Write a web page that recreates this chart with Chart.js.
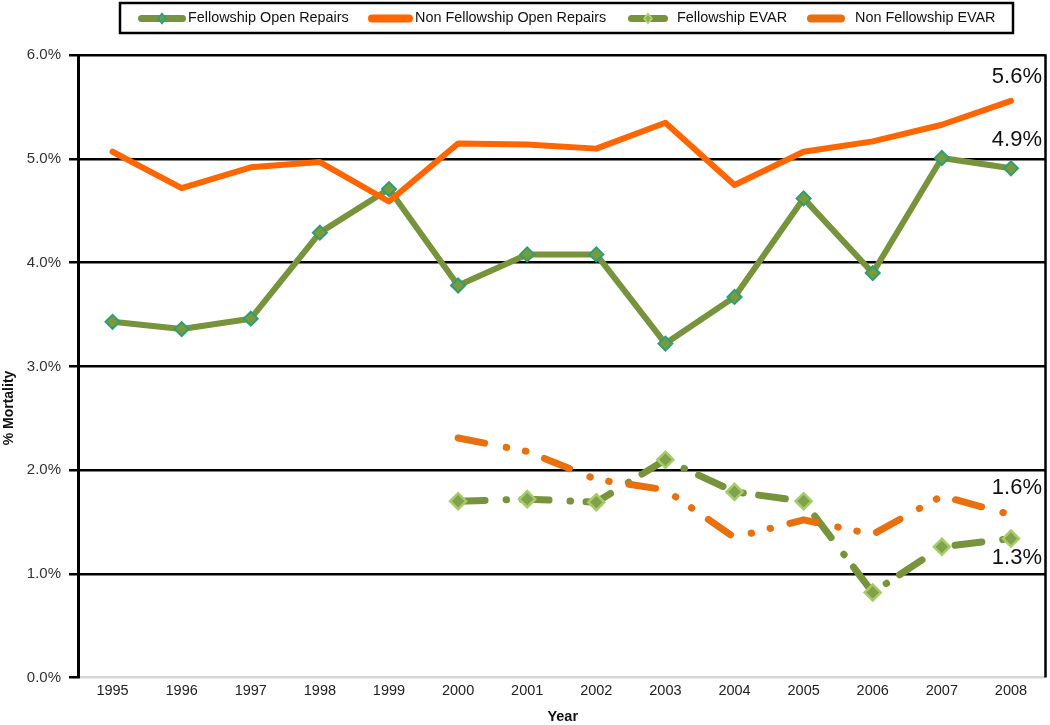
<!DOCTYPE html>
<html>
<head>
<meta charset="utf-8">
<script src="https://cdn.jsdelivr.net/npm/chart.js@4.4.1/dist/chart.umd.min.js"></script>
<style>
  html, body { margin: 0; padding: 0; background: #fff; overflow: hidden; }
  #wrap { width: 1050px; height: 725px; position: relative; }
  canvas { display: block; }
</style>
</head>
<body>
<div id="wrap"><canvas id="c"></canvas></div>
<script>
// ---- data ----
const years = ['1995','1996','1997','1998','1999','2000','2001','2002','2003','2004','2005','2006','2007','2008'];
const fellowOpen    = [3.43, 3.36, 3.46, 4.29, 4.71, 3.78, 4.08, 4.08, 3.22, 3.67, 4.62, 3.90, 5.01, 4.91];
const nonFellowOpen = [5.07, 4.72, 4.92, 4.97, 4.59, 5.15, 5.14, 5.10, 5.35, 4.75, 5.07, 5.17, 5.33, 5.56];
const fellowEvar    = [null, null, null, null, null, 1.70, 1.72, 1.69, 2.10, 1.79, 1.70, 0.82, 1.26, 1.34];
const nonFellowEvar = [null, null, null, null, null, 2.31, 2.18, 1.91, 1.81, 1.35, 1.52, 1.38, 1.75, 1.57];
const seriesNames = ['Fellowship Open Repairs', 'Non Fellowship Open Repairs', 'Fellowship EVAR', 'Non Fellowship EVAR'];
const yMin = 0, yMax = 6, yStep = 1;
const xTitle = 'Year';
const yTitle = '% Mortality';

// ---- styles ----
const GREEN = '#77933C';
const ORANGE = '#FF6600';
const ORANGE2 = '#E8700E';
const SANS = "'Liberation Sans', Arial, Helvetica, sans-serif";

// legend layout (positions only)
const legendBox = { l: 120, t: 3, r: 1013, b: 33 };
const legendItems = [
  { x0: 138, x1: 186, tx: 188, color: GREEN, w: 7, marker: { fill: '#5E9E6A', stroke: '#2E9E77' } },
  { x0: 368, x1: 413, tx: 415, color: ORANGE, w: 8, marker: null },
  { x0: 628, x1: 668, tx: 677, color: GREEN, w: 7, marker: { fill: '#8DB255', stroke: '#B5D57A' } },
  { x0: 807, x1: 845, tx: 855, color: ORANGE2, w: 8, marker: null }
];

function diamond(ctx, x, y, rx, ry) {
  ctx.beginPath();
  ctx.moveTo(x, y - ry); ctx.lineTo(x + rx, y); ctx.lineTo(x, y + ry); ctx.lineTo(x - rx, y);
  ctx.closePath();
}

const decorPlugin = {
  id: 'decor',
  beforeDatasetsDraw(chart) {
    const { ctx, chartArea: a } = chart;
    ctx.save();
    ctx.strokeStyle = '#000';
    ctx.lineWidth = 2.5;
    ctx.beginPath();
    ctx.moveTo(a.right, a.top - 1);
    ctx.lineTo(a.right, a.bottom);
    ctx.stroke();
    ctx.restore();
  },
  afterDraw(chart) {
    const { ctx, chartArea: a } = chart;
    ctx.save();
    // legend box
    ctx.strokeStyle = '#000';
    ctx.lineWidth = 2.5;
    ctx.strokeRect(legendBox.l, legendBox.t, legendBox.r - legendBox.l, legendBox.b - legendBox.t);
    const cy = (legendBox.t + legendBox.b) / 2 + 0.5;
    legendItems.forEach((it, i) => {
      ctx.strokeStyle = it.color;
      ctx.lineWidth = it.w;
      ctx.lineCap = 'round';
      ctx.beginPath();
      ctx.moveTo(it.x0 + it.w / 2, cy);
      ctx.lineTo(it.x1 - it.w / 2, cy);
      ctx.stroke();
      if (it.marker) {
        const mx = (it.x0 + it.x1) / 2;
        diamond(ctx, mx, cy, 4, 5);
        ctx.fillStyle = it.marker.fill; ctx.fill();
        ctx.lineWidth = 1.5; ctx.strokeStyle = it.marker.stroke; ctx.stroke();
      }
      ctx.fillStyle = '#111';
      ctx.font = '14.4px ' + SANS;
      ctx.textAlign = 'left';
      ctx.textBaseline = 'middle';
      ctx.fillText(seriesNames[i], it.tx, cy);
    });

    // axis titles
    ctx.fillStyle = '#111';
    ctx.font = 'bold 14px ' + SANS;
    ctx.textAlign = 'center';
    ctx.textBaseline = 'middle';
    ctx.save();
    ctx.translate(9, 408);
    ctx.rotate(-Math.PI / 2);
    ctx.fillText(yTitle, 0, 0);
    ctx.restore();
    ctx.font = 'bold 14.5px ' + SANS;
    ctx.fillText(xTitle, (a.left + a.right) / 2 + 1, 717);

    // end value labels
    const specs = [
      { ds: 1, dy: -24 },
      { ds: 0, dy: -28 },
      { ds: 3, dy: -27 },
      { ds: 2, dy: 19 }
    ];
    ctx.font = '22px ' + SANS;
    ctx.textAlign = 'right';
    ctx.fillStyle = '#111';
    specs.forEach(s => {
      const meta = chart.getDatasetMeta(s.ds);
      const n = meta.data.length - 1;
      const pt = meta.data[n];
      const v = chart.data.datasets[s.ds].data[n];
      ctx.fillText(v.toFixed(1) + '%', pt.x + 31, pt.y + s.dy);
    });
    ctx.restore();
  }
};

new Chart(document.getElementById('c'), {
  type: 'line',
  data: {
    labels: years,
    datasets: [
      {
        label: seriesNames[0], data: fellowOpen, order: 4,
        borderColor: GREEN, borderWidth: 6, tension: 0,
        borderJoinStyle: 'round', borderCapStyle: 'round',
        pointStyle: 'rectRot', pointRadius: 7,
        pointBackgroundColor: '#7A9A3B', pointBorderColor: '#2E9E77', pointBorderWidth: 2
      },
      {
        label: seriesNames[1], data: nonFellowOpen, order: 3,
        borderColor: ORANGE, borderWidth: 6, tension: 0,
        borderJoinStyle: 'round', borderCapStyle: 'round',
        pointRadius: 0
      },
      {
        label: seriesNames[2], data: fellowEvar, order: 2,
        borderColor: GREEN, borderWidth: 7, tension: 0,
        borderDash: [27, 21, 0.5, 15.5], borderCapStyle: 'round', borderJoinStyle: 'round',
        pointStyle: 'rectRot', pointRadius: 8,
        pointBackgroundColor: '#7FA24A', pointBorderColor: '#A6CC6A', pointBorderWidth: 2.5
      },
      {
        label: seriesNames[3], data: nonFellowEvar, order: 1,
        borderColor: ORANGE2, borderWidth: 7, tension: 0,
        borderDash: [27, 22, 0.5, 19, 0.5, 20], borderCapStyle: 'round', borderJoinStyle: 'round',
        pointRadius: 0
      }
    ]
  },
  options: {
    responsive: true,
    maintainAspectRatio: false,
    animation: false,
    events: [],
    layout: { autoPadding: false, padding: { top: 55.3, right: 4.5, bottom: 0, left: 0 } },
    plugins: { legend: { display: false }, tooltip: { enabled: false }, title: { display: false } },
    scales: {
      x: {
        type: 'category',
        offset: true,
        grid: { display: false, drawTicks: false },
        border: { display: false },
        ticks: { color: '#222', font: { family: SANS, size: 14.5 }, padding: 5, maxRotation: 0, autoSkip: false },
        afterFit(s) { s.height = 47.5; }
      },
      y: {
        min: yMin, max: yMax,
        ticks: {
          stepSize: yStep,
          color: '#333',
          font: { family: SANS, size: 15 },
          padding: 8,
          callback: v => v.toFixed(1) + '%'
        },
        grid: {
          color: c => (c.tick && c.tick.value === 0) ? '#d6d6d6' : '#000',
          tickColor: '#000',
          lineWidth: 2.5,
          tickLength: 9,
          drawTicks: true
        },
        border: { display: true, color: '#000', width: 3 },
        afterFit(s) { s.width = 78; }
      }
    }
  },
  plugins: [decorPlugin]
});
</script>
</body>
</html>
